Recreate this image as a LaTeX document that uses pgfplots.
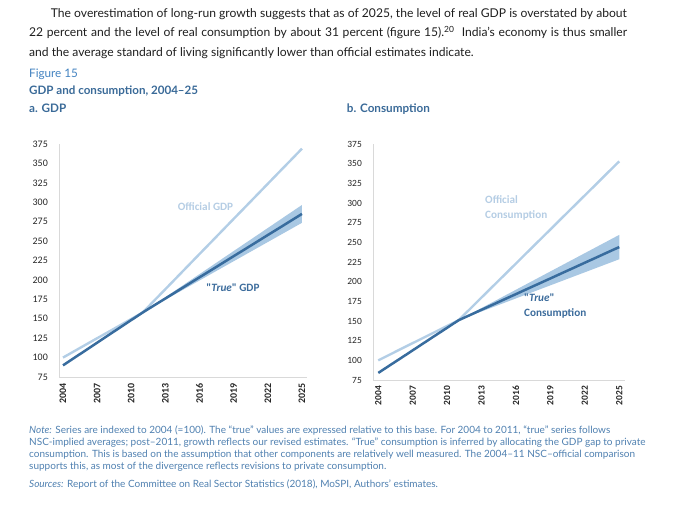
\documentclass[border=0pt]{standalone}
\usepackage{fontspec}
\setmainfont{Lato}
\newfontfamily\carlito{Carlito}
\usepackage{pgfplots}
\pgfplotsset{compat=1.18}
\definecolor{bodyblack}{HTML}{1E1E1E}
\definecolor{figblue}{HTML}{4282C0}
\definecolor{titleblue}{HTML}{3A6A98}
\definecolor{noteblue}{HTML}{4F80B0}
\definecolor{darkline}{HTML}{386C9E}
\definecolor{lightline}{HTML}{B3CEE6}
\definecolor{bandc}{HTML}{A9C8E3}
\definecolor{ticklab}{HTML}{262626}
\definecolor{axisgray}{HTML}{D9D9D9}
\definecolor{lightlab}{HTML}{B5CDE4}
\definecolor{darklab}{HTML}{3C6C9C}

\pgfplotstableread{
year off tru
2004 100.0 90.0
2005 108.3 99.7
2006 116.6 109.4
2007 124.9 119.1
2008 133.1 128.9
2009 141.4 138.6
2010 149.7 148.3
2011 158.0 158.0
2012 173.1 167.1
2013 188.1 176.1
2014 203.2 185.2
2015 218.3 194.3
2016 233.4 203.4
2017 248.4 212.4
2018 263.5 221.5
2019 278.6 230.6
2020 293.6 239.6
2021 308.7 248.7
2022 323.8 257.8
2023 338.9 266.8
2024 353.9 275.9
2025 369.0 285.0
}\gdptab

\pgfplotstableread{
year off tru
2004 100.0 84.0
2005 107.3 93.6
2006 114.6 103.1
2007 121.9 112.7
2008 129.1 122.3
2009 136.4 131.9
2010 143.7 141.4
2011 151.0 151.0
2012 165.4 157.6
2013 179.9 164.3
2014 194.3 170.9
2015 208.7 177.6
2016 223.1 184.2
2017 237.6 190.9
2018 252.0 197.5
2019 266.4 204.1
2020 280.9 210.8
2021 295.3 217.4
2022 309.7 224.1
2023 324.1 230.7
2024 338.6 237.4
2025 353.0 244.0
}\constab

\pgfplotsset{
  panel/.style={
    anchor=south west, scale only axis,
    ymin=75, ymax=375,
    axis x line=bottom, axis y line=left,
    axis line style={draw=axisgray, line width=0.8bp, -},
    xtick={2004,2007,...,2025}, ytick={75,100,...,375},
    major tick length=0pt,
    xticklabel style={rotate=90, anchor=east, inner xsep=6bp, inner ysep=0pt,
      font=\carlito\bfseries\fontsize{10}{12}\selectfont, text=ticklab},
    yticklabel style={anchor=east, inner xsep=11bp,
      font=\carlito\fontsize{10}{12}\selectfont, text=ticklab},
    xticklabel={\pgfmathprintnumber[/pgf/number format/1000 sep={}]{\tick}},
    /pgf/number format/assume math mode=true,
    clip=false,
  },
  offl/.style={lightline, line width=2.4bp},
  trul/.style={darkline, line width=2.5bp},
}

\begin{document}
\begin{tikzpicture}[x=1bp,y=1bp]
\path[use as bounding box] (0,0) rectangle (680bp,507bp);

% body text
\node[anchor=base west, inner sep=0, text=bodyblack, font=\fontsize{12.1bp}{15bp}\selectfont] at (50.7bp,489.2bp)
  {\makebox[576bp][s]{The overestimation of long-run growth suggests that as of 2025, the level of real GDP is overstated by about}};
\node[anchor=base west, inner sep=0, text=bodyblack, font=\fontsize{12.1bp}{15bp}\selectfont] at (29bp,470.2bp)
  {\makebox[598bp][s]{22 percent and the level of real consumption by about 31 percent (figure 15).\textsuperscript{20}\ \ India’s economy is thus smaller}};
\node[anchor=base west, inner sep=0, text=bodyblack, font=\fontsize{12.1bp}{15bp}\selectfont] at (29bp,450.2bp)
  {and the average standard of living significantly lower than official estimates indicate.};

\node[anchor=base west, inner sep=0, text=figblue, font=\fontsize{11.7bp}{13bp}\selectfont] at (29bp,429.2bp) {Figure 15};
\node[anchor=base west, inner sep=0, text=titleblue, font=\bfseries\fontsize{11.6bp}{13bp}\selectfont] at (29bp,412.2bp) {GDP and consumption, 2004–25};
\node[anchor=base west, inner sep=0, text=titleblue, font=\bfseries\fontsize{11.7bp}{13bp}\selectfont] at (29bp,394.2bp) {a. GDP};
\node[anchor=base west, inner sep=0, text=titleblue, font=\bfseries\fontsize{11.7bp}{13bp}\selectfont] at (346.7bp,394.2bp) {b. Consumption};

% Panel a
\begin{axis}[panel, at={(59bp,130bp)}, width=247.5bp, height=233bp, xmin=2003.65, xmax=2025.4]
\addplot[fill=bandc, draw=none] coordinates {(2011,158) (2018,227.3) (2025,296.5) (2025,273.5) (2018,215.8) (2011,158)};
\addplot[offl] table[x=year, y=off] {\gdptab};
\addplot[trul] table[x=year, y=tru] {\gdptab};
\end{axis}
\node[text=lightlab, font=\carlito\bfseries\fontsize{11.2bp}{13bp}\selectfont, inner sep=0] at (205.5bp,300bp) {Official GDP};
\node[text=darklab, font=\carlito\bfseries\fontsize{11.2bp}{13bp}\selectfont, inner sep=0] at (233bp,219bp) {"\textit{True}" GDP};

% Panel b
\begin{axis}[panel, at={(373bp,127bp)}, width=252bp, height=236bp, xmin=2003.54, xmax=2025.5,
  xticklabel style={font=\carlito\bfseries\fontsize{9.5}{11}\selectfont},
  yticklabel style={font=\carlito\fontsize{9.5}{11}\selectfont}]
\addplot[fill=bandc, draw=none] coordinates {(2011,151) (2018,205.3) (2025,259.5) (2025,228.5) (2018,189.8) (2011,151)};
\addplot[offl] table[x=year, y=off] {\constab};
\addplot[trul] table[x=year, y=tru] {\constab};
\end{axis}
\node[anchor=west, align=left, text=lightlab, font=\carlito\bfseries\fontsize{11.2bp}{15bp}\selectfont, inner sep=0] at (485bp,299.5bp) {Official\\Consumption};
\node[anchor=west, align=left, text=darklab, font=\carlito\bfseries\fontsize{11.2bp}{15bp}\selectfont, inner sep=0] at (524bp,200.5bp) {"\textit{True}"\\Consumption};

% notes
\begin{scope}[every node/.style={anchor=base west, inner sep=0, text=noteblue, font=\fontsize{10bp}{12bp}\selectfont}]
\node at (29bp,73.3bp) {\textit{Note:} Series are indexed to 2004 (=100). The “true” values are expressed relative to this base. For 2004 to 2011, “true” series follows};
\node at (29bp,61.3bp) {NSC-implied averages; post–2011, growth reflects our revised estimates. “True” consumption is inferred by allocating the GDP gap to private};
\node at (29bp,49.7bp) {consumption. This is based on the assumption that other components are relatively well measured. The 2004–11 NSC–official comparison};
\node at (29bp,37.3bp) {supports this, as most of the divergence reflects revisions to private consumption.};
\node at (29bp,20bp) {\textit{Sources:} Report of the Committee on Real Sector Statistics (2018), MoSPI, Authors’ estimates.};
\end{scope}
\end{tikzpicture}
\end{document}
